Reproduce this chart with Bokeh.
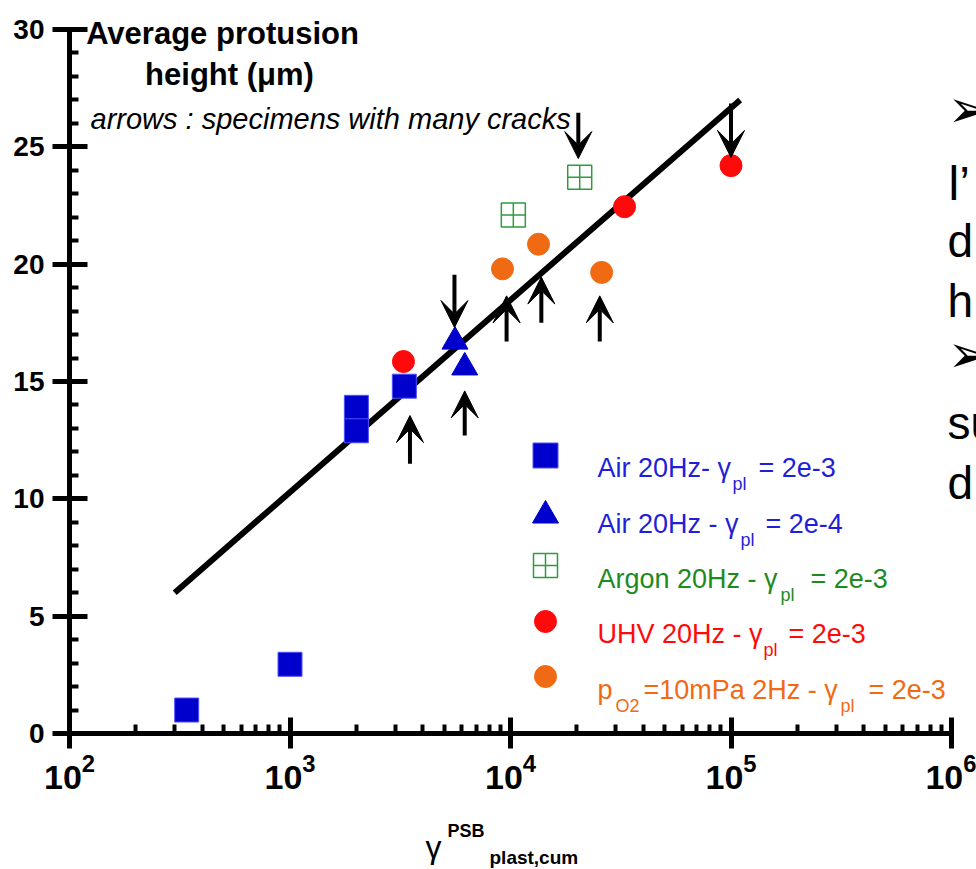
from bokeh.plotting import figure
from bokeh.models import (Range1d, LinearScale, FixedTicker, SingleIntervalTicker,
                          Label, Arrow, VeeHead, ColumnDataSource)
from bokeh.embed import file_html
from bokeh.resources import INLINE

# ---------------- data ----------------
air_2e3_x = [340, 1000, 2000, 2000, 3300]
air_2e3_y = [1.0, 2.95, 13.9, 12.9, 14.8]
air_2e4_x = [5600, 6200]
air_2e4_y = [16.7, 15.6]
argon_x = [10300, 20600]
argon_y = [22.1, 23.7]
uhv_x = [3270, 32900, 100000]
uhv_y = [15.85, 22.45, 24.2]
po2_x = [9200, 13400, 25900]
po2_y = [19.8, 20.85, 19.65]
fit_x = [300, 110000]
fit_y = [6.0, 27.0]

up_x = [3500, 6200, 9600, 13800, 25400]
up_y0 = [11.5, 12.7, 16.7, 17.5, 16.7]
up_y1 = [13.55, 14.6, 18.65, 19.45, 18.65]
down_x = [5570, 20300, 100000]
down_y0 = [19.55, 26.45, 26.85]
down_y1 = [17.3, 24.5, 24.55]

x_major = [1e2, 1e3, 1e4, 1e5, 1e6]
x_bounds = (1e2, 1e6)
y_bounds = (0, 30)

BLUE = "#0000CC"
BLUE_T = "#1F1FD8"
GREEN = "#2E9B3E"
GREEN_T = "#1E8A1E"
RED = "#FF0A0A"
ORANGE = "#F06A14"
FONT = "Liberation Sans"

# ---------------- layout constants (pixels) ----------------
W, H = 976, 869
AX_LEFT, AX_RIGHT = 69, 951      # pixel of 10^2 and 10^6
AX_BOTTOM, AX_TOP = 733, 29      # pixel of 0 and 30
dec = (AX_RIGHT - AX_LEFT) / 4.0
ppu = (AX_BOTTOM - AX_TOP) / 30.0
x_start = 10 ** (2 - AX_LEFT / dec)
x_end = 10 ** (6 + (W - AX_RIGHT) / dec)
y_start = -(H - AX_BOTTOM) / ppu
y_end = 30 + AX_TOP / ppu

p = figure(width=W, height=H, x_axis_type="log",
           x_range=Range1d(x_start, x_end), y_range=Range1d(y_start, y_end),
           output_backend="svg", toolbar_location=None,
           min_border_left=0, min_border_right=0,
           min_border_top=0, min_border_bottom=0)
p.title.visible = False
p.outline_line_color = None
p.grid.visible = False
p.background_fill_color = "white"
p.border_fill_color = "white"

p.extra_x_ranges = {"px": Range1d(0, W)}
p.extra_y_ranges = {"px": Range1d(H, 0)}
p.extra_x_scales = {"px": LinearScale()}
p.extra_y_scales = {"px": LinearScale()}

minor_x = [m * 10 ** e for e in range(2, 6) for m in range(2, 10)]
xa = p.xaxis[0]
xa.fixed_location = 0
xa.bounds = x_bounds
xa.ticker = FixedTicker(ticks=x_major, minor_ticks=minor_x)
xa.axis_line_width = 5
xa.major_tick_line_width = 5
xa.minor_tick_line_width = 4
xa.major_tick_in = 16
xa.major_tick_out = 15
xa.minor_tick_in = 9
xa.minor_tick_out = 0
xa.major_label_standoff = 5
xa.major_label_text_font = FONT
xa.major_label_text_font_style = "bold"
xa.major_label_text_font_size = "34px"
xa.major_label_text_color = "black"

ya = p.yaxis[0]
ya.fixed_location = 100
ya.bounds = y_bounds
ya.ticker = SingleIntervalTicker(interval=5, num_minor_ticks=5)
ya.axis_line_width = 5
ya.major_tick_line_width = 5
ya.minor_tick_line_width = 4
ya.major_tick_in = 18
ya.major_tick_out = 17
ya.minor_tick_in = 9
ya.minor_tick_out = 0
ya.major_label_standoff = 8
ya.major_label_text_font = FONT
ya.major_label_text_font_style = "bold"
ya.major_label_text_font_size = "28px"
ya.major_label_text_color = "black"

# fit line
p.line(fit_x, fit_y, line_width=6, line_color="black", line_cap="butt")

# arrows
up_src = ColumnDataSource(dict(x=up_x, y0=up_y0, y1=up_y1))
down_src = ColumnDataSource(dict(x=down_x, y0=down_y0, y1=down_y1))
for src in (up_src, down_src):
    p.add_layout(Arrow(x_start="x", y_start="y0", x_end="x", y_end="y1", source=src,
                       line_width=4, line_color="black",
                       end=VeeHead(size=27, fill_color="black", line_color="black", line_width=1)))

# data markers
p.scatter(air_2e3_x, air_2e3_y, marker="square", size=24, fill_color=BLUE,
          line_color="#5050FF", line_width=1)
p.scatter(air_2e4_x, air_2e4_y, marker="triangle", size=26, fill_color=BLUE,
          line_color=BLUE, line_width=1)
p.scatter(argon_x, argon_y, marker="square_cross", size=24, fill_color=None,
          line_color=GREEN, line_width=1.5)
p.scatter(uhv_x, uhv_y, marker="circle", size=22, fill_color=RED, line_color=RED)
p.scatter(po2_x, po2_y, marker="circle", size=22, fill_color=ORANGE, line_color=ORANGE)

# ---------------- legend (manual, pixel coordinates) ----------------
leg_mx = [545, 545, 545, 545, 545]
leg_my = [455, 515, 565, 621, 676]
leg_markers = ["square", "triangle", "square_cross", "circle", "circle"]
leg_fill = [BLUE, BLUE, None, RED, ORANGE]
leg_line = ["#5050FF", BLUE, GREEN, RED, ORANGE]
leg_size = [25, 26, 24, 22, 22]
for i in range(5):
    p.scatter([leg_mx[i]], [leg_my[i]], marker=leg_markers[i], size=leg_size[i],
              fill_color=leg_fill[i], line_color=leg_line[i],
              line_width=1.5 if leg_fill[i] is None else 1,
              x_range_name="px", y_range_name="px")


def lab(x, y, text, size, color="black", style="normal", align="left",
        baseline="alphabetic", font=FONT):
    p.add_layout(Label(x=x, y=y, x_range_name="px", y_range_name="px", text=text,
                       text_font=font, text_font_size=f"{size}px",
                       text_font_style=style, text_color=color,
                       text_align=align, text_baseline=baseline))


LS = 27
SS = 18
leg_rows = [
    (467, BLUE_T, [(597, "Air 20Hz- γ", LS, 0), (732, "pl", SS, 16), (758, "= 2e-3", LS, 0)]),
    (523, BLUE_T, [(597, "Air 20Hz - γ", LS, 0), (740, "pl", SS, 16), (765, "= 2e-4", LS, 0)]),
    (578, GREEN_T, [(597, "Argon 20Hz - γ", LS, 0), (780, "pl", SS, 16), (810, "= 2e-3", LS, 0)]),
    (633, RED, [(597, "UHV 20Hz - γ", LS, 0), (763, "pl", SS, 16), (788, "= 2e-3", LS, 0)]),
    (689, ORANGE, [(597, "p", LS, 0), (615, "O2", SS, 16), (643, "=10mPa 2Hz - γ", LS, 0),
                   (840, "pl", SS, 16), (868, "= 2e-3", LS, 0)]),
]
for by, col, parts in leg_rows:
    for x, t, s, dy in parts:
        lab(x, by + dy, t, s, color=col)

# ---------------- titles ----------------
lab(222, 33, "Average protusion", 31, style="bold", align="center")
lab(229, 74, "height (μm)", 31, style="bold", align="center")
lab(90, 118, "arrows : specimens with many cracks", 29, style="italic")

# x-axis title
lab(425, 846, "γ", 32)
lab(447, 830, "PSB", 18, style="bold")
lab(489, 857, "plast,cum", 19, style="bold")

# right-hand slide text fragments
lab(947, 108, "➢", 52, font="DejaVu Sans", baseline="middle")
lab(948, 183, "l’", 48, font=FONT)
lab(947, 240, "d", 46, font=FONT)
lab(947, 300, "h", 46, font=FONT)
lab(947, 353, "➢", 52, font="DejaVu Sans", baseline="middle")
lab(947, 422, "su", 46, font=FONT)
lab(947, 482, "d", 46, font=FONT)

open("out.html", "w").write(file_html(p, INLINE))
